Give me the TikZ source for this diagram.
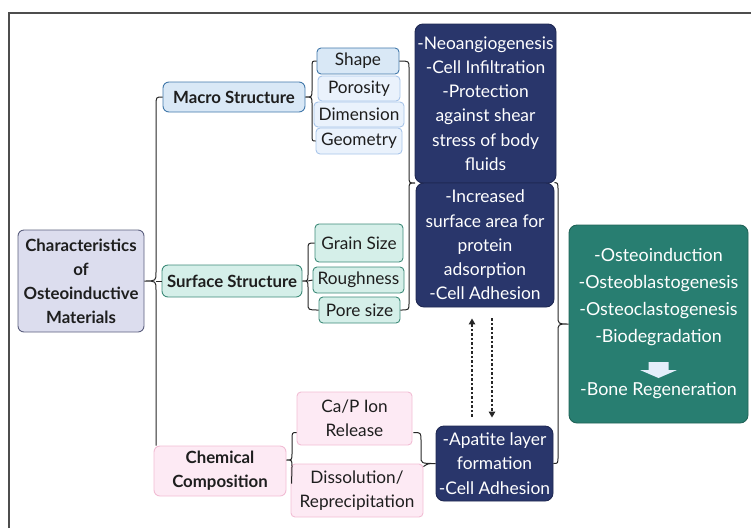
\documentclass[tikz,border=0pt]{standalone}
\usepackage{fontspec}
\setmainfont{Lato}
\usetikzlibrary{calc,arrows.meta}
\definecolor{mainfill}{HTML}{DCDDEE}
\definecolor{mainline}{HTML}{5B5F7E}
\definecolor{macrofill}{HTML}{D9E8F6}
\definecolor{macroline}{HTML}{4178AA}
\definecolor{subbluefill}{HTML}{EAF2FC}
\definecolor{subblueline}{HTML}{A8C5EA}
\definecolor{tealfill}{HTML}{D5EFE9}
\definecolor{tealline}{HTML}{3E8B79}
\definecolor{pinkfill}{HTML}{FDEAF4}
\definecolor{pinkline}{HTML}{F2BDD4}
\definecolor{navy}{HTML}{29366B}
\definecolor{navyline}{HTML}{1F2852}
\definecolor{greenbox}{HTML}{287E71}
\definecolor{greenline}{HTML}{206357}
\definecolor{arrowwhite}{HTML}{E4EEFB}
\definecolor{txt}{HTML}{1E1E1E}
\definecolor{framec}{HTML}{4D4D4D}
\begin{document}
\begin{tikzpicture}[x=1pt,y=-1pt,
  box/.style={draw, rounded corners=4pt, line width=0.9pt, inner sep=0pt, align=center, text=txt,
    font=\fontsize{17.2}{24}\selectfont},
  boldbox/.style={box, font=\fontsize{16.8}{24}\selectfont\bfseries},
  mainbox/.style={boldbox, fill=mainfill, draw=mainline, rounded corners=6pt},
  macrobox/.style={boldbox, fill=macrofill, draw=macroline, rounded corners=6pt},
  shapebox/.style={box, fill=macrofill, draw=macroline},
  subblue/.style={box, fill=subbluefill, draw=subblueline},
  surfbox/.style={boldbox, fill=tealfill, draw=tealline, rounded corners=6pt},
  tealbox/.style={box, fill=tealfill, draw=tealline},
  chembox/.style={boldbox, fill=pinkfill, draw=pinkline, rounded corners=6pt},
  pinkbox/.style={box, fill=pinkfill, draw=pinkline},
  navybox/.style={box, fill=navy, draw=navyline, text=white, rounded corners=8pt,
    font=\fontsize{17.4}{24.2}\selectfont},
  greenb/.style={box, fill=greenbox, draw=greenline, text=white, rounded corners=8pt,
    font=\fontsize{17.9}{26.8}\selectfont},
  brace/.style={draw=black!85, line width=1pt},
  dotarrow/.style={draw=black!85, line width=1.4pt, dash pattern=on 2.5pt off 2pt, -{Triangle[length=6pt,width=6.5pt]}}
]
\useasboundingbox (0,0) rectangle (751,528);
\draw[framec, line width=1.2pt] (9,528) -- (9,13) -- (751,13);

% nodes
\node[mainbox, minimum width=126pt, minimum height=102pt] (main) at (81,281) {Characteristics\\of\\Osteoinductive\\Materials};
\node[macrobox, minimum width=142pt, minimum height=30pt] (macro) at (234,97) {Macro Structure};
\node[shapebox, minimum width=82pt, minimum height=26pt] (shape) at (358,61) {Shape};
\node[subblue, minimum width=82pt, minimum height=25pt] (poros) at (359,88.5) {Porosity};
\node[subblue, minimum width=90pt, minimum height=25pt] (dimen) at (359,114.5) {Dimension};
\node[subblue, minimum width=86pt, minimum height=26pt] (geom) at (359,141) {Geometry};
\node[surfbox, minimum width=140pt, minimum height=32pt] (surf) at (232,281) {Surface Structure};
\node[tealbox, minimum width=88pt, minimum height=38pt] (grain) at (359,243) {Grain Size};
\node[tealbox, minimum width=91pt, minimum height=26pt] (rough) at (358.5,280) {Roughness};
\node[tealbox, minimum width=81pt, minimum height=26pt] (pore) at (359.5,310) {Pore size};
\node[chembox, minimum width=132pt, minimum height=50pt] (chem) at (220,471) {Chemical\\Composition};
\node[pinkbox, minimum width=115pt, minimum height=53pt] (capi) at (354.5,418.5) {Ca/P Ion\\Release};
\node[pinkbox, minimum width=132pt, minimum height=53pt] (diss) at (357,490.5) {Dissolution/\\Reprecipitation};
\node[navybox, minimum width=117pt, minimum height=75pt] (apat) at (494.5,463.5) {-Apatite layer\\formation\\-Cell Adhesion};
\node[navybox, minimum width=141pt, minimum height=159pt] (neo) at (485.5,103.5) {-Neoangiogenesis\\-Cell Infiltration\\-Protection\\against shear\\stress of body\\fluids};
\node[navybox, minimum width=138pt, minimum height=124pt] (inc) at (485,245) {-Increased\\surface area for\\protein\\adsorption\\-Cell Adhesion};
\node[greenb, minimum width=179pt, minimum height=198pt] (green) at (658.5,324) {-Osteoinduction\\-Osteoblastogenesis\\-Osteoclastogenesis\\-Biodegradation\\[26.8pt]-Bone Regeneration};

% white arrow inside green box
\fill[arrowwhite] ($(green.center)+(-10,38)$) -- ($(green.center)+(10,38)$) -- ($(green.center)+(10,46)$)
  -- ($(green.center)+(18.5,46)$) -- ($(green.center)+(0,54)$) -- ($(green.center)+(-18.5,46)$)
  -- ($(green.center)+(-10,46)$) -- cycle;

% braces
\coordinate (s1) at (156,281);
\draw[brace] (macro.west) .. controls (156,97) .. (156,106) -- (156,272) .. controls (156,281) .. (main.east)
  .. controls (156,281) .. (156,290) -- (chem.north -| s1);
\draw[brace] (s1) -- (surf.west);

\draw[brace] (shape.west) .. controls (312,61) .. (312,68) -- (312,90) .. controls (312,97) .. (macro.east)
  .. controls (312,97) .. (312,104) -- (312,134) .. controls (312,141) .. (geom.west);

\coordinate (s3) at (308,281);
\draw[brace] (grain.west) .. controls (308,243) .. (308,250) -- (308,274) .. controls (308,281) .. (surf.east)
  .. controls (308,281) .. (308,288) -- (308,303) .. controls (308,310) .. (pore.west);
\draw[brace] (s3) -- (rough.west);

\coordinate (p4) at ($(neo.south west)!0.5!(inc.north west)$);
\draw[brace] (shape.east) .. controls (409,61) .. (409,68) -- (409,176) .. controls (409,183) .. (p4)
  .. controls (409,183) .. (409,190) -- (409,303) .. controls (409,310) .. (pore.east);

\draw[brace] (inc.north east) .. controls (558,183) .. (558,191) -- (558,316) .. controls (558,324) .. (green.west)
  .. controls (558,324) .. (558,332) -- (558,456) .. controls (558,463.5) .. (apat.east);

\coordinate (p6) at ($(chem.east)+(0,-11)$);
\draw[brace] ($(capi.west)+(0,14)$) .. controls (292,432.5) .. (292,440) -- (292,453) .. controls (292,460) .. (p6)
  .. controls (292,460) .. (292,467) -- ($(diss.north west)+(1,20)$);

\draw[brace] ($(capi.east)+(1,14)$) .. controls (421,432.5) .. (421,441) -- (421,456) .. controls (421,463.5) .. (apat.west)
  .. controls (428,463.5) .. ($(diss.north east)+(0,3)$);

% dotted arrows
\draw[dotarrow] ($(apat.north)+(-22.5,-9)$) -- ($(inc.south)+(-13,11)$);
\draw[dotarrow] ($(inc.south)+(7,11)$) -- ($(apat.north)+(-2.5,-8)$);
\end{tikzpicture}
\end{document}
